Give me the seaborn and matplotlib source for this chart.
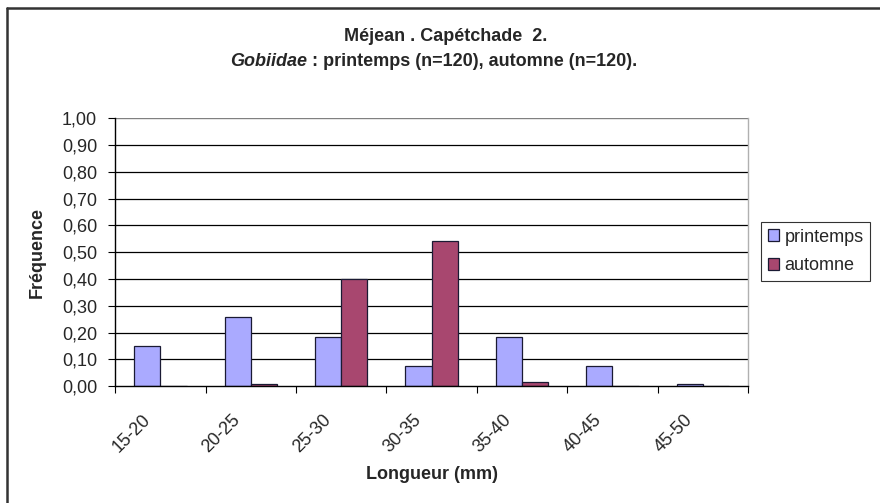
import pandas as pd
import seaborn as sns
import matplotlib.pyplot as plt
from matplotlib.lines import Line2D

# Données
classes = ["15-20", "20-25", "25-30", "30-35", "35-40", "40-45", "45-50"]
printemps = [0.15, 0.258, 0.183, 0.075, 0.183, 0.075, 0.008]
automne = [0.0, 0.008, 0.40, 0.542, 0.017, 0.0, 0.0]
saisons = ["printemps", "automne"]
yticks = [0.0, 0.1, 0.2, 0.3, 0.4, 0.5, 0.6, 0.7, 0.8, 0.9, 1.0]
ytick_labels = ["0,00", "0,10", "0,20", "0,30", "0,40", "0,50",
                "0,60", "0,70", "0,80", "0,90", "1,00"]

df = pd.DataFrame({
    "classe": classes * 2,
    "frequence": printemps + automne,
    "saison": [saisons[0]] * len(classes) + [saisons[1]] * len(classes),
})

sns.set_style("white")
plt.rcParams["font.family"] = ["Liberation Sans", "DejaVu Sans"]

fig = plt.figure(figsize=(8.8, 5.03), dpi=100)
ax = fig.add_axes([0.131, 0.232, 0.719, 0.533])

couleurs = {"printemps": "#AAAAFF", "automne": "#A8476F"}
sns.barplot(data=df, x="classe", y="frequence", hue="saison", order=classes,
            hue_order=saisons, palette=couleurs, width=0.58, saturation=1,
            edgecolor="#1a1a33", linewidth=0.9, ax=ax)

ax.set_ylim(0, 1.0)
ax.set_xlim(-0.5, len(classes) - 0.5)
ax.set_yticks(yticks)
ax.set_yticklabels(ytick_labels, fontsize=13)
# étiquettes inclinées : ancrées un peu à gauche du centre, comme dans Excel
ax.set_xticks([i - 0.21 for i in range(len(classes))])
ax.set_xticklabels(classes, rotation=45, ha="right", rotation_mode="anchor",
                   fontsize=13)
ax.tick_params(axis="x", which="major", length=0, pad=18)
ax.set_xticks([i - 0.5 for i in range(len(classes) + 1)], minor=True)
ax.tick_params(axis="x", which="minor", length=5, width=0.8, color="black",
               bottom=True, direction="out")
ax.tick_params(axis="y", length=5, width=0.8, color="black", left=True,
               direction="out", pad=8)

for y in yticks[1:-1]:
    ax.axhline(y, color="black", linewidth=0.9, zorder=0)
ax.axhline(1.0, color="#808080", linewidth=1.0, zorder=0)

for s in ["left", "bottom"]:
    ax.spines[s].set_color("black")
    ax.spines[s].set_linewidth(1.0)
ax.spines["right"].set_color("#B0B0B0")
ax.spines["right"].set_linewidth(1.0)
ax.spines["top"].set_visible(False)

ax.set_xlabel("Longueur (mm)", fontsize=13, fontweight="bold", labelpad=7)
ax.set_ylabel("Fréquence", fontsize=13, fontweight="bold", labelpad=12)

# légende à droite, style Excel
handles, labels = ax.get_legend_handles_labels()
ax.legend(handles, labels, loc="center left", bbox_to_anchor=(0.865, 0.5),
          bbox_transform=fig.transFigure, frameon=True, fancybox=False,
          edgecolor="black", fontsize=13, handlelength=0.65,
          handleheight=0.65, handletextpad=0.3, borderpad=0.35,
          labelspacing=0.65, borderaxespad=0)
ax.get_legend().get_frame().set_linewidth(0.8)

# titre sur deux lignes
fig.text(0.506, 0.927, "Méjean . Capétchade  2.", ha="center", va="center",
         fontsize=13, fontweight="bold")
t1 = fig.text(0, 0.877, "Gobiidae", style="italic", fontweight="bold",
              fontsize=13, va="center")
t2 = fig.text(0, 0.877, " : printemps (n=120), automne (n=120).",
              fontweight="bold", fontsize=13, va="center")
fig.canvas.draw()
r = fig.canvas.get_renderer()
w1 = t1.get_window_extent(r).width / fig.bbox.width
w2 = t2.get_window_extent(r).width / fig.bbox.width
x0 = 0.493 - (w1 + w2) / 2
t1.set_x(x0)
t2.set_x(x0 + w1)

# cadre du graphique (coupé à droite et en bas)
fig.add_artist(Line2D([0.008, 1.0], [0.984, 0.984], transform=fig.transFigure,
                      color="#333333", linewidth=1.8))
fig.add_artist(Line2D([0.008, 0.008], [0.0, 0.984], transform=fig.transFigure,
                      color="#333333", linewidth=1.8))

fig.savefig("out.png", dpi=100)
